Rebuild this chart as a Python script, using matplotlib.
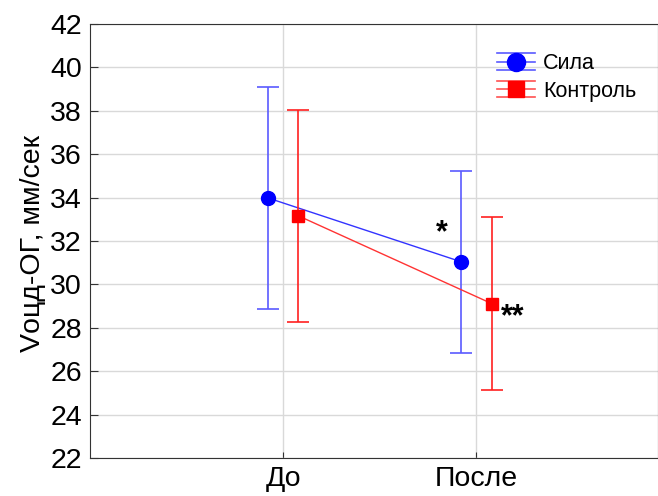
import numpy as np
import matplotlib.pyplot as plt
from matplotlib.legend_handler import HandlerBase
from matplotlib.lines import Line2D

plt.rcParams['font.family'] = ['Liberation Sans', 'DejaVu Sans']

# Data: mean and error half-width for each group
categories = ['До', 'После']
sila_mean = [33.98, 31.04]
sila_err = [5.13, 4.19]
kontrol_mean = [33.16, 29.12]
kontrol_err = [4.88, 4.0]
series_names = ['Сила', 'Контроль']
stars = ['*', '**']


class ErrHandler(HandlerBase):
    """Legend key: marker on a line with two whisker lines above and below."""
    def __init__(self, color, bar_color, marker, ms):
        super().__init__()
        self.color, self.bar_color, self.marker, self.ms = color, bar_color, marker, ms

    def create_artists(self, legend, orig_handle, xdescent, ydescent,
                       width, height, fontsize, trans):
        artists = []
        yc = height / 2 - ydescent
        for dy in (-height * 0.55, 0, height * 0.55):
            artists.append(Line2D([-xdescent, width - xdescent], [yc + dy, yc + dy],
                                  color=self.bar_color, lw=1.2, transform=trans))
        artists.append(Line2D([width / 2 - xdescent], [yc], marker=self.marker,
                              color=self.color, ms=self.ms, ls='none', transform=trans))
        return artists


fig = plt.figure(figsize=(6.58, 4.96), dpi=100)
ax = fig.add_axes([0.137, 0.0766, 0.863, 0.875])

x = np.arange(1, len(categories) + 1)
off = 0.078

ax.plot(x - off, sila_mean, color='#3333ff', lw=1.0, zorder=3)
ax.errorbar(x - off, sila_mean, yerr=sila_err, fmt='none', ecolor='#5a5aff',
            elinewidth=1.2, capsize=8, capthick=1.2, zorder=3)
ax.plot(x - off, sila_mean, 'o', color='#0000ff', ms=10, zorder=4)

ax.plot(x + off, kontrol_mean, color='#ff3333', lw=1.0, zorder=3)
ax.errorbar(x + off, kontrol_mean, yerr=kontrol_err, fmt='none', ecolor='#ff2020',
            elinewidth=1.2, capsize=8, capthick=1.2, zorder=3)
ax.plot(x + off, kontrol_mean, 's', color='#ff0000', ms=9, zorder=4)

# significance marks
ax.text(x[1] - off - 0.1, sila_mean[1] + 1.3, stars[0], fontsize=22,
        fontweight='bold', ha='center', va='center')
ax.text(x[1] + off + 0.11, kontrol_mean[1] - 0.65, stars[1], fontsize=22,
        fontweight='bold', ha='center', va='center')

ax.set_xlim(0, 2.94)
ax.set_ylim(22, 42)
ax.set_yticks(np.arange(22, 43, 2))
ax.set_xticks(x)
ax.set_xticklabels(categories)
ax.grid(True, color='#d9d9d9', lw=1.0)
ax.set_axisbelow(True)
ax.tick_params(axis='both', direction='in', labelsize=20.5, length=6, color='#333333')
ax.tick_params(axis='y', pad=6)
ax.tick_params(axis='x', length=4, pad=6)
for s in ax.spines.values():
    s.set_color('#333333')
fig.text(33 / 658, 0.509, 'Vоцд-ОГ, мм/сек', fontsize=20.5, rotation=90,
         ha='center', va='center')

h1 = Line2D([], [])
h2 = Line2D([], [])
fig.legend([h1, h2], series_names, loc='upper left', bbox_to_anchor=(0.755, 0.893),
           frameon=False, fontsize=15.5, handlelength=1.77, handletextpad=0.37,
           labelspacing=0.3, borderpad=0, borderaxespad=0,
           handler_map={h1: ErrHandler('#0000ff', '#5a5aff', 'o', 13),
                        h2: ErrHandler('#ff0000', '#ff5050', 's', 11)})

fig.savefig('out.png', dpi=100)
